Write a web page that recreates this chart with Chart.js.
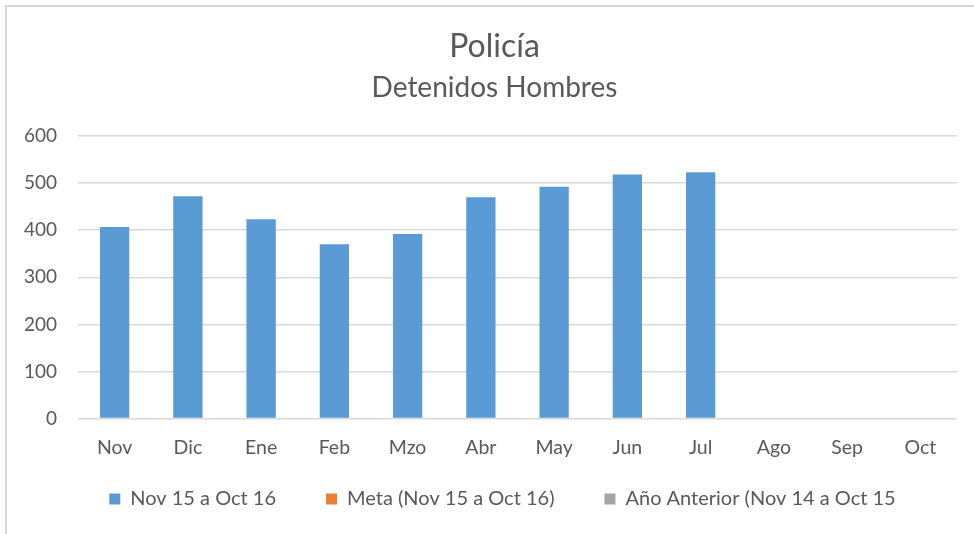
<!DOCTYPE html>
<html>
<head>
<meta charset="utf-8">
<script src="https://cdn.jsdelivr.net/npm/chart.js@4.4.1/dist/chart.umd.min.js"></script>
<style>
    html, body { margin: 0; padding: 0; background: #ffffff; overflow: hidden; }
    #wrap { position: relative; width: 974px; height: 534px; }
    #frame {
        position: absolute; left: 5px; top: 5px; width: 1200px; height: 800px;
        border-left: 2px solid #d9d9d9; border-top: 2px solid #d9d9d9;
    }
    canvas { position: absolute; left: 0; top: 0; }
</style>
</head>
<body>
<div id="wrap">
    <div id="frame"></div>
    <canvas id="chart" width="974" height="534"></canvas>
</div>
<script>
    // Data
    const months = ['Nov', 'Dic', 'Ene', 'Feb', 'Mzo', 'Abr', 'May', 'Jun', 'Jul', 'Ago', 'Sep', 'Oct'];
    const actual = [407, 472, 423, 370, 392, 470, 492, 518, 523, null, null, null];
    const meta = [null, null, null, null, null, null, null, null, null, null, null, null];
    const anterior = [null, null, null, null, null, null, null, null, null, null, null, null];
    const seriesNames = ['Nov 15 a Oct 16', 'Meta (Nov 15 a Oct 16)', 'Año Anterior (Nov 14 a Oct 15'];

    const colors = {
        blue: '#5b9bd5',
        orange: '#ed7d31',
        gray: '#a5a5a5',
        text: '#595959',
        grid: '#d9d9d9'
    };
    const font = "Lato, 'Open Sans', sans-serif";

    // legend: keep the wide horizontal gaps but pull it up under the axis labels;
    // titles sit a bit right of the canvas centre like in the original
    const layoutTweak = {
        id: 'layoutTweak',
        afterInit(chart) {
            const fit = chart.legend.fit;
            chart.legend.fit = function() {
                fit.call(this);
                this.height -= 28;
            };
        },
        afterLayout(chart) {
            chart.legend.top -= 29;
            chart.legend.left += 24;
            chart.legend.right += 24;
            chart.boxes.forEach(b => {
                if (b !== chart.legend && b.options && typeof b.options.text === 'string') {
                    b.left += 16;
                    b.right += 16;
                }
            });
        }
    };

    const ctx = document.getElementById('chart').getContext('2d');
    new Chart(ctx, {
        type: 'bar',
        data: {
            labels: months,
            datasets: [{
                label: seriesNames[0],
                data: actual,
                backgroundColor: colors.blue,
                categoryPercentage: 1,
                barPercentage: 0.4
            }, {
                label: seriesNames[1],
                data: meta,
                backgroundColor: colors.orange,
                categoryPercentage: 1,
                barPercentage: 0.4
            }, {
                label: seriesNames[2],
                data: anterior,
                backgroundColor: colors.gray,
                categoryPercentage: 1,
                barPercentage: 0.4
            }]
        },
        options: {
            responsive: false,
            animation: false,
            grouped: false,
            layout: {
                padding: { top: 12, right: 17, bottom: 14, left: 0 }
            },
            plugins: {
                title: {
                    display: true,
                    text: 'Policía',
                    color: colors.text,
                    font: { family: font, size: 32, weight: 'normal' },
                    padding: { top: 15, bottom: 0 }
                },
                subtitle: {
                    display: true,
                    text: 'Detenidos Hombres',
                    color: colors.text,
                    font: { family: font, size: 28, weight: 'normal' },
                    padding: { top: 6, bottom: 31 }
                },
                legend: {
                    position: 'bottom',
                    labels: {
                        color: colors.text,
                        font: { family: font, size: 20 },
                        boxWidth: 11,
                        boxHeight: 11,
                        padding: 50
                    }
                },
                tooltip: { enabled: false }
            },
            scales: {
                x: {
                    grid: { display: false },
                    border: { display: false },
                    ticks: {
                        color: colors.text,
                        font: { family: font, size: 19.5 },
                        padding: 9
                    }
                },
                y: {
                    min: 0,
                    max: 600,
                    grid: { color: colors.grid, lineWidth: 1.5, drawTicks: false },
                    border: { display: false },
                    ticks: {
                        stepSize: 100,
                        color: colors.text,
                        font: { family: font, size: 19 },
                        padding: 21
                    },
                    afterFit: function(scale) {
                        scale.width = 78;
                    }
                }
            }
        },
        plugins: [layoutTweak]
    });
</script>
</body>
</html>
